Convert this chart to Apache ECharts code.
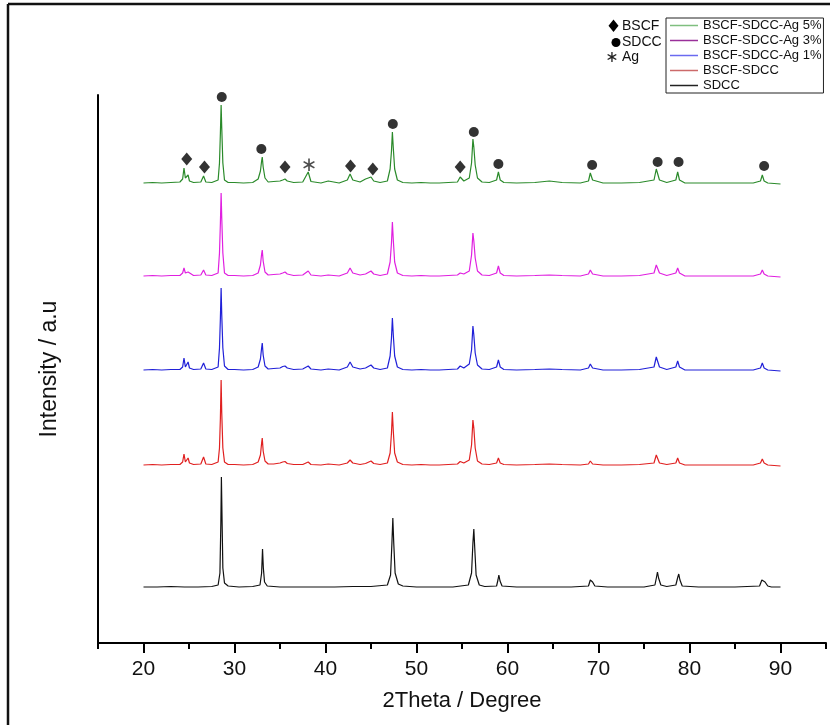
<!DOCTYPE html>
<html>
<head>
<meta charset="utf-8">
<script src="https://cdn.jsdelivr.net/npm/echarts@6/dist/echarts.min.js"></script>
<style>html,body{margin:0;padding:0;background:#fff}#c{width:830px;height:725px}</style>
</head>
<body>
<div id="c"></div>
<script>
// 2Theta positions shared by the four composite patterns
const twoTheta = [
  20,21,22,23,24,24.3,24.45,24.6,24.75,24.9,
  25.05,25.5,26.3,26.6,26.85,27.5,28.2,28.35,28.45,28.53,
  28.6,28.72,28.9,29.3,30,31,32,32.6,32.85,32.98,
  33.05,33.15,33.35,33.7,34.3,35,35.3,35.55,35.8,36.5,
  37.5,38.1,38.4,39.5,40.3,41.5,42.4,42.7,43,43.8,
  44.4,44.6,45,45.3,46,46.8,47.1,47.25,47.35,47.45,
  47.6,47.9,48.5,49.5,50.5,51.5,52.5,53.5,54.5,54.8,
  55.2,55.8,56.05,56.2,56.3,56.45,56.7,57.2,58,58.8,
  59,59.2,59.6,61,63,64.6,66,68,68.9,69.1,
  69.35,70.5,72.5,74.5,76.1,76.35,76.45,76.7,77.5,78.5,
  78.7,78.9,79.5,81,83,85,87,87.8,88,88.2,
  88.6,90
];
// stacked intensities (a.u.)
const bscfSdcc = [
  178,178.5,178,178.5,178.5,181,189,181,181,185,
  180,178.5,179,186,179,178.5,181,195,225,263,
  230,195,181,178.5,178.5,178,178.5,181,188,200,
  205,192,182,179,179,180,181,181.5,179.5,178.5,
  178.5,181,178.5,178,179,178,180,183,180,178.5,
  179.5,180,182,179.5,178.5,180,190,210,231,212,
  190,181,178.5,178,178.5,178,178,178.5,179,181.5,
  180,183,198,223,215,195,182,179,178.5,180,
  185,180,178.5,178,178.5,179,178.5,178,179,182,
  179,178,178,178.5,180,188,186,180,178.5,180,
  185,180,178,178,178,178,178,180,184,180,
  178,177
];
const ag1 = [
  273,273.5,273,273.5,273.5,276,285,276,276,281,
  275,273.5,274,280,274,273.5,276,295,325,355,
  328,295,277,273.5,273.5,273,273.5,276,284,295,
  300,288,277,274,274.5,275,276.5,277,275,273.5,
  274,277,274,273,274,273,276,281,276,274,
  275,276,278,275,273.5,275,287,305,325,308,
  287,276,273.5,273,273.5,273,273,273.5,274,277,
  275,279,293,317,308,290,278,274,273.5,276,
  283,276,273.5,273,273.5,274,273.5,273,275,279,
  275,273,273,273.5,276,286,284,276,273.5,276,
  282,276,273,273,273,273,273,275,280,275,
  273,272
];
const ag3 = [
  367,367.5,367,367.5,367.5,370,375,370,370,371,
  369,367.5,368,373,368,367.5,370,390,420,450,
  425,390,370,367.5,367.5,367,367.5,370,378,389,
  393,382,371,368,368.5,369,370,371,369,367.5,
  368,372,368,367,368,367,370,375,370,368,
  369,370,372,369,367.5,369,381,400,421,403,
  381,370,367.5,367,367.5,367,367,367.5,368,370,
  369,372,388,410,402,385,372,368,367.5,370,
  377,370,367.5,367,367.5,368,367.5,367,369,373,
  369,367,367,367.5,370,378,376,370,367.5,370,
  375,370,367,367,367,367,367,369,373,369,
  367,366
];
const ag5 = [
  460,460.5,460,460.5,461,464,475,465,464,468,
  462,460.5,461,467,461,460.5,463,480,510,538,
  515,480,463,460.5,460.5,460,460.5,464,472,482,
  486,476,465,461,461.5,462,463,464,462,460.5,
  461,471,461.5,460,462,460,463,469,463,461,
  464,463,466,462,460.5,462,474,492,511,495,
  474,463,460.5,460,460.5,460,460,460.5,461,466,
  462,465,480,504,496,478,465,461,460.5,463,
  471,463,460.5,460,460.5,462,460.5,460,462,470,
  463,460,460,460.5,463,474,472,463,460.5,463,
  471,463,460,460,460,460,460,462,468,462,
  460,459
];
// SDCC pattern: [2theta, intensity]
const sdcc = [
  [20,56],[21.5,56],[23,56.5],[24.5,56],[26,56],[27.5,56.5],[28.2,58],[28.4,70],[28.5,120],[28.56,166],
  [28.63,125],[28.72,75],[28.9,60],[29.3,57],[30.5,56],[32,56.5],[32.8,58],[32.98,70],[33.08,94],[33.17,75],
  [33.3,61],[33.6,57],[35,56],[37,56],[39,56],[41,56],[43,56.5],[45,56.5],[46.8,58],[47.15,68],
  [47.3,100],[47.4,125],[47.5,100],[47.65,70],[48,59],[48.5,57],[50,56],[52,56],[54,56],[55.7,58],
  [56.05,70],[56.2,100],[56.3,114],[56.4,95],[56.55,68],[56.9,58],[57.5,56.5],[58.8,57],[58.95,63],[59.05,68],
  [59.18,62],[59.4,57],[61,56],[63,56],[65,56],[67,56],[68.9,57],[69.1,63],[69.2,65],[69.35,61],
  [69.6,57],[71,56],[73,56],[75,56],[76.2,58],[76.38,66],[76.48,71],[76.6,65],[76.85,58],[77.5,56.5],
  [78.5,58],[78.72,66],[78.82,69],[78.95,63],[79.2,57],[81,56],[83,56],[85,56],[87.7,57],[87.95,63],
  [88.1,65],[88.3,61],[88.6,57],[89,56],[90,56]
];
// phase markers [2theta, height]
const bscfMarks = [[24.75,484],[26.7,476],[35.55,476],[42.75,477],[45.2,474],[54.8,476]];
const sdccMarks = [[28.6,546],[32.95,494],[47.4,519],[56.3,511],[59.0,479],[69.3,478],[76.5,481],[78.8,481],[88.2,477]];
const agMarks = [[38.2,477]];

const seriesNames = ['BSCF-SDCC-Ag 5%','BSCF-SDCC-Ag 3%','BSCF-SDCC-Ag 1%','BSCF-SDCC','SDCC'];
const xMajor = [20,30,40,50,60,70,80,90];
const xMinor = [15,25,35,45,55,65,75,85,95];

const zip = ys => twoTheta.map((x,i)=>[x, ys[i]]);
const FONT = 'Liberation Sans, Arial, sans-serif';
const chart = echarts.init(document.getElementById('c'));
const lineColors = ['#2a8a2a','#e020e0','#2020d8','#e02020','#111111'];
const legendColors = ['#7fbf7f','#9a309a','#6a6af0','#cc6a6a','#222222'];
const lineData = [zip(ag5), zip(ag3), zip(ag1), zip(bscfSdcc), sdcc];

const series = seriesNames.map((n,i)=>({
  name:n, type:'line', xAxisIndex:0, yAxisIndex:0, data:lineData[i], showSymbol:false, symbol:'none',
  lineStyle:{color:lineColors[i], width:1.2}, itemStyle:{color:lineColors[i]}, z:2
}));
series.push({type:'scatter', name:'m1', data:bscfMarks, symbol:'diamond', symbolSize:[11,13], itemStyle:{color:'#000'}, z:5});
series.push({type:'scatter', name:'m2', data:sdccMarks, symbol:'circle', symbolSize:10, itemStyle:{color:'#000'}, z:5});
series.push({type:'scatter', name:'m3', data:agMarks, symbol:'circle', symbolSize:1, itemStyle:{color:'rgba(0,0,0,0)'},
  label:{show:true, position:'inside', formatter:'\u2217', fontSize:20, color:'#222', fontFamily:'DejaVu Sans'}, z:5});

chart.setOption({
  animation:false,
  backgroundColor:'#fff',
  grid:{left:98, right:4, top:95, bottom:82},
  xAxis:[{
    type:'value', min:15, max:95,
    axisLine:{show:true, lineStyle:{color:'#000', width:2}},
    axisTick:{show:true, length:10, lineStyle:{color:'#000', width:2}, customValues:xMajor},
    axisLabel:{show:true, customValues:xMajor, fontSize:21, color:'#111', margin:16, fontFamily:FONT},
    splitLine:{show:false},
    name:'2Theta / Degree', nameLocation:'middle', nameGap:47,
    nameTextStyle:{fontSize:22, color:'#111', fontFamily:FONT}
  },{
    type:'value', min:15, max:95, position:'bottom',
    axisLine:{show:false},
    axisTick:{show:true, length:6, lineStyle:{color:'#000', width:2}, customValues:xMinor},
    axisLabel:{show:false}, splitLine:{show:false}
  }],
  yAxis:{
    type:'value', min:0, max:548,
    axisLine:{show:true, lineStyle:{color:'#000', width:2}},
    axisTick:{show:false}, axisLabel:{show:false}, splitLine:{show:false},
    name:'Intensity / a.u', nameLocation:'middle', nameRotate:90, nameGap:37,
    nameTextStyle:{fontSize:23, color:'#111', fontFamily:FONT}
  },
  legend:{
    orient:'vertical', left:666, top:18, padding:[0,2,0,4], itemGap:0,
    itemWidth:28, itemHeight:1.5, icon:'rect',
    borderColor:'#222', borderWidth:1, backgroundColor:'#fff',
    textStyle:{fontSize:13, color:'#111', fontFamily:FONT, lineHeight:15},
    data:seriesNames.map((n,i)=>({name:n, itemStyle:{color:legendColors[i]}}))
  },
  graphic:[
    {type:'line', shape:{x1:8,y1:4,x2:830,y2:4}, style:{stroke:'#111', lineWidth:2.5}},
    {type:'line', shape:{x1:8,y1:4,x2:8,y2:725}, style:{stroke:'#111', lineWidth:2.5}},
    {type:'polygon', shape:{points:[[613.5,19.5],[618.5,25.7],[613.5,32],[608.5,25.7]]}, style:{fill:'#000'}},
    {type:'circle', shape:{cx:616,cy:42.5,r:4.5}, style:{fill:'#000'}},
    {type:'text', x:612, y:58, style:{text:'\u2217', font:'16px DejaVu Sans', fill:'#222', align:'center', verticalAlign:'middle'}},
    {type:'text', x:622, y:25.7, style:{text:'BSCF', font:'14px Liberation Sans', fill:'#111', verticalAlign:'middle'}},
    {type:'text', x:622, y:42.5, style:{text:'SDCC', font:'14px Liberation Sans', fill:'#111', verticalAlign:'middle'}},
    {type:'text', x:622, y:57.5, style:{text:'Ag', font:'14px Liberation Sans', fill:'#111', verticalAlign:'middle'}}
  ],
  series:series
});
</script>
</body>
</html>
